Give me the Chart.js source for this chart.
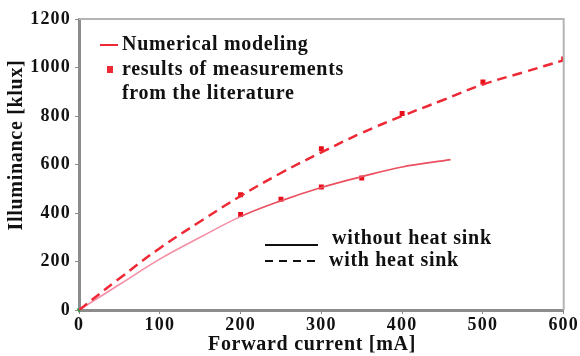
<!DOCTYPE html>
<html>
<head>
<meta charset="utf-8">
<script src="https://cdn.jsdelivr.net/npm/chart.js@4/dist/chart.umd.min.js"></script>
<style>
  html, body { margin: 0; padding: 0; background: #fff; }
  #wrap { width: 580px; height: 356px; }
</style>
</head>
<body>
<div id="wrap"><canvas id="lux-chart" width="580" height="356"></canvas></div>
<script>
// forward current [mA] and illuminance [klux]
const sinkCurrent = [0, 50, 100, 150, 200, 250, 300, 350, 400, 450, 500, 550, 600];
const sinkModel = [0, 130, 255, 365, 470, 565, 650, 730, 800, 865, 930, 980, 1030];
const sinkMeasCurrent = [200, 300, 400, 500, 600];
const sinkMeas = [475, 665, 810, 940, 1035];

const noSinkCurrent = [0, 50, 100, 150, 200, 250, 300, 350, 400, 460];
const noSinkModel = [0, 105, 210, 300, 385, 450, 505, 550, 590, 620];
const noSinkMeasCurrent = [200, 250, 300, 350];
const noSinkMeas = [394, 457, 507, 544];

const originCurrent = [0];
const originLux = [0];

const xTicks = [0, 100, 200, 300, 400, 500, 600];
const yTicks = [0, 200, 400, 600, 800, 1000, 1200];

const FONT = "'Liberation Serif', 'Times New Roman', serif";
const RED = "rgb(238,40,52)";

function pts(xs, ys) {
  return xs.map((x, i) => ({ x: x, y: ys[i] }));
}

// tick labels are a bit spread out
const spacing = {
  id: "spacing",
  beforeUpdate(chart) { chart.ctx.letterSpacing = "1.2px"; },
  beforeDraw(chart) { chart.ctx.letterSpacing = "1.2px"; }
};

// titles, in-plot legends and the thin frame on top/right
const extras = {
  id: "extras",
  afterDraw(chart) {
    const c = chart.ctx;
    const a = chart.chartArea;
    c.save();

    c.strokeStyle = "#b4b4b4";
    c.lineWidth = 2;
    c.beginPath();
    c.moveTo(a.left, a.top);
    c.lineTo(a.right, a.top);
    c.lineTo(a.right, a.bottom);
    c.stroke();

    c.fillStyle = "#111";
    c.font = "bold 20px " + FONT;
    c.letterSpacing = "0.7px";
    c.textBaseline = "middle";

    // axis titles
    c.textAlign = "center";
    c.fillText("Forward current [mA]", 312, 345);
    c.save();
    c.translate(17, 145);
    c.rotate(-Math.PI / 2);
    c.fillText("Illuminance [klux]", 0, 0);
    c.restore();

    // legend: model / measurement
    c.textAlign = "left";
    c.strokeStyle = RED;
    c.lineWidth = 2;
    c.beginPath();
    c.moveTo(100, 45);
    c.lineTo(118, 45);
    c.stroke();
    c.fillStyle = RED;
    c.fillRect(107, 66, 6, 7);
    c.fillStyle = "#111";
    c.fillText("Numerical modeling", 122, 45);
    c.fillText("results of measurements", 122, 70);
    c.fillText("from the literature", 122, 94);

    // legend: line styles
    c.strokeStyle = "#111";
    c.lineWidth = 2;
    c.beginPath();
    c.moveTo(265, 245);
    c.lineTo(318, 245);
    c.stroke();
    c.setLineDash([8, 6]);
    c.beginPath();
    c.moveTo(265, 261);
    c.lineTo(318, 261);
    c.stroke();
    c.setLineDash([]);
    c.fillText("without heat sink", 332, 239);
    c.fillText("with heat sink", 329, 261);

    c.restore();
  }
};

const tickFont = { family: FONT, size: 18, weight: "bold" };

new Chart(document.getElementById("lux-chart"), {
  type: "line",
  data: {
    datasets: [
      {
        label: "with heat sink",
        data: pts(sinkCurrent, sinkModel),
        borderColor: RED,
        borderWidth: 2.5,
        borderDash: [10, 6],
        pointRadius: 0,
        tension: 0.4,
        fill: false
      },
      {
        label: "without heat sink",
        data: pts(noSinkCurrent, noSinkModel),
        borderColor: "rgb(236,80,96)",
        borderWidth: 1.6,
        pointRadius: 0,
        tension: 0.4,
        fill: false,
        segment: {
          borderColor: (ctx) => ctx.p0.parsed.x < 200 ? "rgba(242,130,155,0.9)" : undefined
        }
      },
      {
        label: "measured, heat sink",
        data: pts(sinkMeasCurrent, sinkMeas),
        showLine: false,
        pointStyle: "rect",
        pointRadius: 3.5,
        pointBackgroundColor: "rgb(230,15,25)",
        pointBorderWidth: 0
      },
      {
        label: "measured, no heat sink",
        data: pts(noSinkMeasCurrent, noSinkMeas),
        showLine: false,
        pointStyle: "rect",
        pointRadius: 3.5,
        pointBackgroundColor: "rgb(230,15,25)",
        pointBorderWidth: 0
      },
      {
        label: "origin",
        data: pts(originCurrent, originLux),
        showLine: false,
        clip: false,
        pointStyle: "triangle",
        rotation: 180,
        pointRadius: 3,
        pointBackgroundColor: "rgba(40,150,60,0.8)",
        pointBorderWidth: 0
      }
    ]
  },
  options: {
    responsive: false,
    animation: false,
    layout: { padding: { left: 0, right: 15, top: 19, bottom: 0 } },
    plugins: { legend: { display: false }, tooltip: { enabled: false } },
    scales: {
      x: {
        type: "linear",
        min: 0,
        max: 600,
        afterBuildTicks: (axis) => { axis.ticks = xTicks.map(v => ({ value: v })); },
        afterFit: (axis) => { axis.height = 46; },
        border: { color: "#8c8c8c", width: 3 },
        grid: { drawOnChartArea: false, tickLength: 4, color: "#8c8c8c" },
        ticks: { color: "#111", padding: 1, font: tickFont, callback: (v) => String(v) }
      },
      y: {
        min: 0,
        max: 1200,
        afterBuildTicks: (axis) => { axis.ticks = yTicks.map(v => ({ value: v })); },
        afterFit: (axis) => { axis.width = 79; },
        border: { color: "#8c8c8c", width: 3 },
        grid: { drawOnChartArea: false, tickLength: 4, color: "#8c8c8c" },
        ticks: { color: "#111", padding: 4, font: tickFont, callback: (v) => String(v) }
      }
    }
  },
  plugins: [spacing, extras]
});
</script>
</body>
</html>
